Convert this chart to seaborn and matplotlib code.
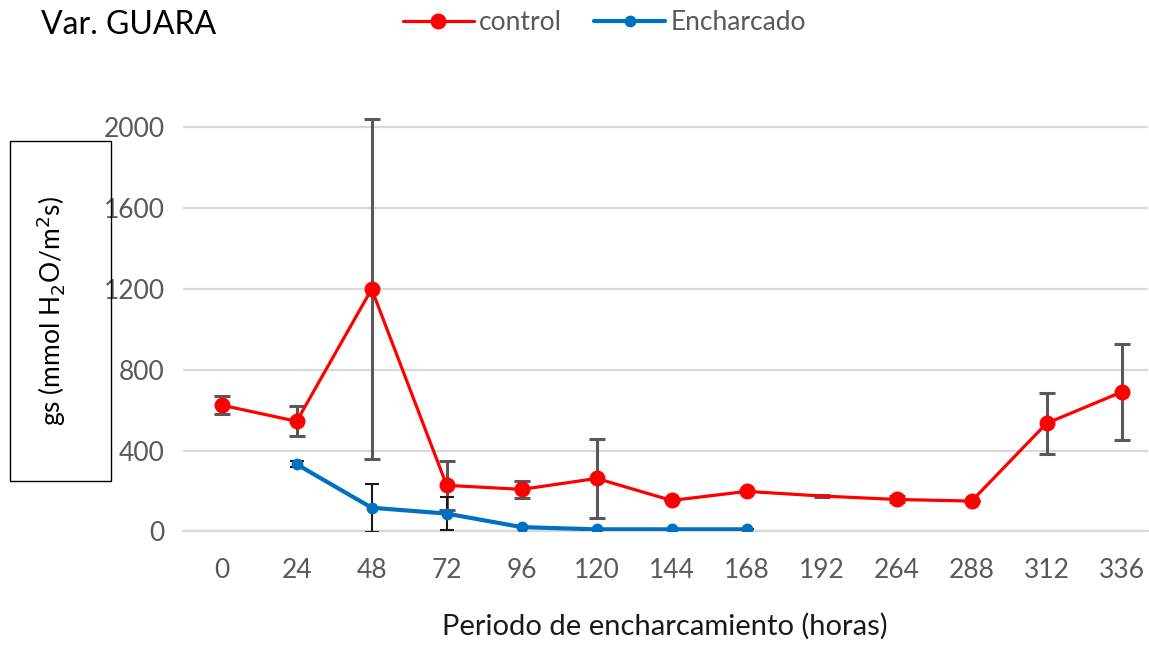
import numpy as np
import pandas as pd
import matplotlib.pyplot as plt
import seaborn as sns
from matplotlib.patches import Rectangle

horas = ['0', '24', '48', '72', '96', '120', '144', '168', '192', '264', '288', '312', '336']
control = [625, 545, 1200, 228, 208, 262, 153, 198, 175, 158, 150, 535, 690]
control_err = [45, 75, 840, 120, 42, 195, 0, 0, 5, 15, 0, 150, 236]
horas_ench = ['24', '48', '72', '96', '120', '144', '168']
encharcado = [332, 117, 88, 21, 10, 10, 10]
ench_err = [15, 120, 82, 0, 0, 0, 0]

sns.set_style('white')
plt.rcParams['font.family'] = ['Lato', 'DejaVu Sans']

fig = plt.figure(figsize=(11.49, 6.48), dpi=100)
ax = fig.add_axes([0.159, 0.18, 0.84, 0.67])

pos = {h: i for i, h in enumerate(horas)}
df_c = pd.DataFrame({'x': [pos[h] for h in horas], 'y': control})
df_e = pd.DataFrame({'x': [pos[h] for h in horas_ench], 'y': encharcado})

red = '#ff0000'
blue = '#0070c0'

ax.errorbar(df_c['x'], df_c['y'], yerr=control_err, fmt='none', ecolor='#595959',
            elinewidth=2.2, capsize=6, capthick=2.2, zorder=2)
mk = [i for i in range(len(horas)) if horas[i] != '192']
sns.lineplot(data=df_c, x='x', y='y', ax=ax, color=red, lw=2.3, marker='o',
             markersize=11.5, markeredgewidth=0, markevery=mk, zorder=3)

ax.errorbar(df_e['x'], df_e['y'], yerr=ench_err, fmt='none', ecolor='#1a1a1a',
            elinewidth=1.5, capsize=5, capthick=1.5, zorder=4)
sns.lineplot(data=df_e, x='x', y='y', ax=ax, color=blue, lw=3, marker='o',
             markersize=8.5, markeredgewidth=0, zorder=5)

ax.set_xlim(-0.52, 12.35)
ax.set_ylim(0, 2150)
ax.set_yticks([0, 400, 800, 1200, 1600, 2000])
ax.set_xticks(range(len(horas)))
ax.set_xticklabels(horas)
ax.set_xticks(np.arange(-0.5, len(horas) - 0.5, 1), minor=True)
ax.tick_params(axis='x', which='major', length=0, pad=19)
ax.tick_params(axis='x', which='minor', length=7, width=1.5, color='#d9d9d9', direction='out')
ax.tick_params(axis='y', length=0, pad=13)
ax.tick_params(labelsize=19, labelcolor='#595959')
ax.yaxis.grid(True, color='#d9d9d9', lw=1.6)
ax.set_axisbelow(True)
for s in ['top', 'right', 'left']:
    ax.spines[s].set_visible(False)
ax.spines['bottom'].set_color('#d9d9d9')
ax.spines['bottom'].set_linewidth(1.6)
ax.set_xlabel('Periodo de encharcamiento (horas)', fontsize=21, color='#1a1a1a', labelpad=22)
ax.set_ylabel('')

fig.text(0.036, 0.962, 'Var. GUARA', fontsize=23, color='black', va='center')
fig.patches.append(Rectangle((0.009, 0.258), 0.088, 0.525, transform=fig.transFigure,
                             fill=False, edgecolor='black', lw=1))
fig.text(0.045, 0.52, r'gs (mmol H$_2$O/m$^2$s)', rotation=90, fontsize=19,
         ha='center', va='center', color='black')

h1, = ax.plot([], [], color=red, lw=2.3, marker='o', markersize=11.5, markeredgewidth=0)
h2, = ax.plot([], [], color=blue, lw=3, marker='o', markersize=8.5, markeredgewidth=0)
fig.legend([h1, h2], ['control', 'Encharcado'], loc='center', bbox_to_anchor=(0.526, 0.965),
           ncol=2, frameon=False, fontsize=19, labelcolor='#595959', handlelength=2.7,
           handletextpad=0.2, columnspacing=1.2)

fig.savefig('out.png', dpi=100)
